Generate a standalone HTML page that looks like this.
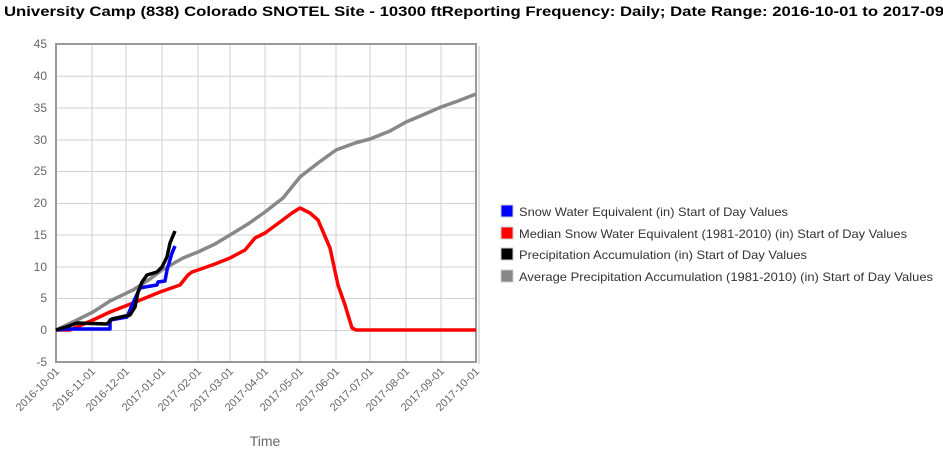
<!DOCTYPE html>
<html><head><meta charset="utf-8"><style>
html,body{margin:0;padding:0;background:#fff;width:943px;height:460px;overflow:hidden}
svg{display:block;font-family:"Liberation Sans",sans-serif}
</style></head><body>
<svg width="943" height="460" viewBox="0 0 943 460">
<text x="4" y="16" font-size="14" font-weight="bold" fill="#000" textLength="940" lengthAdjust="spacingAndGlyphs">University Camp (838) Colorado  SNOTEL Site - 10300 ftReporting Frequency: Daily; Date Range: 2016-10-01 to 2017-09</text>
<g stroke="#d0d0d0" stroke-width="1">
<line x1="56" y1="44.5" x2="476" y2="44.5"/><line x1="56" y1="76.3" x2="476" y2="76.3"/><line x1="56" y1="108" x2="476" y2="108"/><line x1="56" y1="140" x2="476" y2="140"/><line x1="56" y1="171.5" x2="476" y2="171.5"/><line x1="56" y1="203.5" x2="476" y2="203.5"/><line x1="56" y1="235" x2="476" y2="235"/><line x1="56" y1="267" x2="476" y2="267"/><line x1="56" y1="298.5" x2="476" y2="298.5"/><line x1="56" y1="330.5" x2="476" y2="330.5"/>
<line x1="92" y1="44" x2="92" y2="362"/><line x1="126" y1="44" x2="126" y2="362"/><line x1="162" y1="44" x2="162" y2="362"/><line x1="198" y1="44" x2="198" y2="362"/><line x1="230" y1="44" x2="230" y2="362"/><line x1="265" y1="44" x2="265" y2="362"/><line x1="300" y1="44" x2="300" y2="362"/><line x1="336" y1="44" x2="336" y2="362"/><line x1="370" y1="44" x2="370" y2="362"/><line x1="406" y1="44" x2="406" y2="362"/><line x1="441" y1="44" x2="441" y2="362"/>
</g>
<rect x="56" y="44" width="420" height="318" fill="none" stroke="#999" stroke-width="2"/>
<rect x="478" y="46" width="2" height="318" fill="#e0e0e0"/>
<g fill="#666" font-size="12" text-anchor="end">
<text x="47" y="48">45</text><text x="47" y="80">40</text><text x="47" y="112">35</text><text x="47" y="144">30</text><text x="47" y="175">25</text><text x="47" y="207">20</text><text x="47" y="239">15</text><text x="47" y="271">10</text><text x="47" y="302">5</text><text x="47" y="334">0</text><text x="47" y="366">-5</text>
</g>
<g fill="#666" font-size="11" text-anchor="end">
<text transform="translate(60,372) rotate(-45)">2016-10-01</text>
<text transform="translate(96,372) rotate(-45)">2016-11-01</text>
<text transform="translate(130,372) rotate(-45)">2016-12-01</text>
<text transform="translate(166,372) rotate(-45)">2017-01-01</text>
<text transform="translate(202,372) rotate(-45)">2017-02-01</text>
<text transform="translate(234,372) rotate(-45)">2017-03-01</text>
<text transform="translate(269,372) rotate(-45)">2017-04-01</text>
<text transform="translate(304,372) rotate(-45)">2017-05-01</text>
<text transform="translate(340,372) rotate(-45)">2017-06-01</text>
<text transform="translate(374,372) rotate(-45)">2017-07-01</text>
<text transform="translate(410,372) rotate(-45)">2017-08-01</text>
<text transform="translate(445,372) rotate(-45)">2017-09-01</text>
<text transform="translate(480,372) rotate(-45)">2017-10-01</text>
</g>
<text x="265" y="446" font-size="14" fill="#666" text-anchor="middle">Time</text>
<g fill="none" stroke-width="3.5" stroke-linejoin="round">
<polyline stroke="#888" points="56,330 75,321 93,312 110,301 133,290 150,279 162,270 183,258 198,252 215,244 230,235 248,224 265,212 283,198 300,177 318,163 336,150 355,143 370,139 390,131 406,122 425,114 441,107 458,101 476,94"/>
<polyline stroke="#f00" points="56,330 70,330 93,320 110,312 133,303 160,292 180,285 188,275 192,272 198,270 215,264 230,258 245,250 255,238 265,233 280,222 292,213 300,208 310,213 318,220 330,248 338,285 345,305 352,328 356,330 476,330"/>
<polyline stroke="#00f" points="56,330 66,329 110,329 110,320 127,317 133,303 140,288 145,287 157,285 158,282 165,281 167,270 172,253 175,246"/>
<polyline stroke="#000" points="56,330 66,327 77,323 107,324 112,319 130,315 135,307 138,292 142,282 147,275 157,272 162,267 167,257 170,243 175,231"/>
</g>
<g font-size="12" fill="#333">
<rect x="501" y="205" width="12" height="12" fill="#00f" stroke="#ccc"/>
<text x="519" y="216" textLength="269" lengthAdjust="spacingAndGlyphs">Snow Water Equivalent (in) Start of Day Values</text>
<rect x="501" y="227" width="12" height="12" fill="#f00" stroke="#ccc"/>
<text x="519" y="238" textLength="388" lengthAdjust="spacingAndGlyphs">Median Snow Water Equivalent (1981-2010) (in) Start of Day Values</text>
<rect x="501" y="248" width="12" height="12" fill="#000" stroke="#ccc"/>
<text x="519" y="259" textLength="288" lengthAdjust="spacingAndGlyphs">Precipitation Accumulation (in) Start of Day Values</text>
<rect x="501" y="270" width="12" height="12" fill="#888" stroke="#ccc"/>
<text x="519" y="281" textLength="414" lengthAdjust="spacingAndGlyphs">Average Precipitation Accumulation (1981-2010) (in) Start of Day Values</text>
</g>
</svg>
</body></html>
